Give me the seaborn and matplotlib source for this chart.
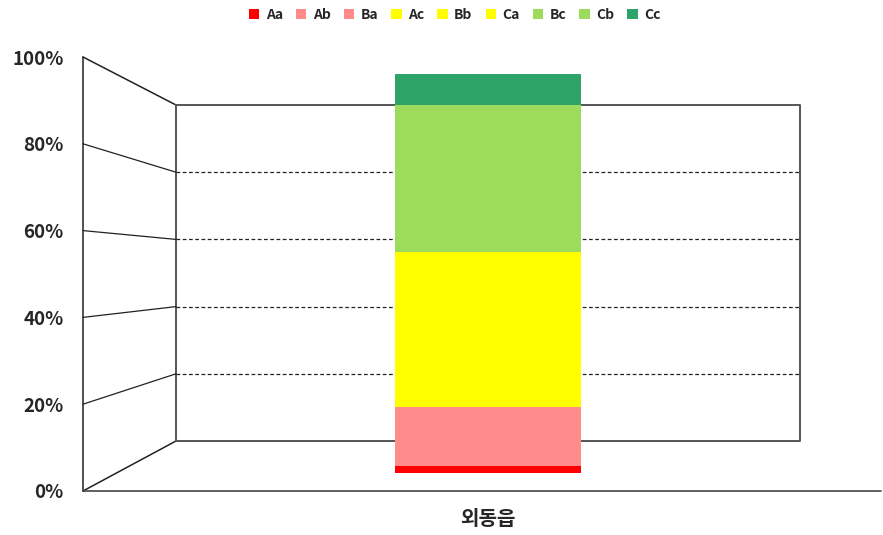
import numpy as np
import pandas as pd
import matplotlib
matplotlib.use('Agg')
import matplotlib.pyplot as plt
import seaborn as sns
from matplotlib.patches import Patch
from matplotlib.ticker import PercentFormatter

# data
region = ['외동읍']
classes = ['Aa', 'Ab', 'Ba', 'Ac', 'Bb', 'Ca', 'Bc', 'Cb', 'Cc']
shares = [0.018, 0.148, 0.0, 0.0, 0.388, 0.0, 0.368, 0.0, 0.078]
colors = ['#FF0000', '#FF8B8B', '#FF8B8B', '#FFFF00', '#FFFF00', '#FFFF00',
          '#9CDB5C', '#9CDB5C', '#2EA36A']
ticks = [0, 0.2, 0.4, 0.6, 0.8, 1.0]

sns.set_theme(style='white')
plt.rcParams['font.family'] = ['Noto Sans CJK KR', 'DejaVu Sans']

W, H = 883, 535
fig = plt.figure(figsize=(W / 100, H / 100), dpi=100)

# pixel geometry of the fake 3D box
fx, f0, f1 = 83, 491, 57      # front wall x, y of 0% and 100%
bx, b0, b1 = 176, 441, 105    # back wall left x, y of 0% and 100%
rx = 800                      # back wall right x
bar0, bar1 = 473, 74          # bar face 0% and 100%


def fr(px_x, px_y, w, h):
    return [px_x / W, (H - px_y - h) / H, w / W, h / H]


# overlay for the walls
deco = fig.add_axes([0, 0, 1, 1])
deco.set_xlim(0, W)
deco.set_ylim(H, 0)
deco.axis('off')
lc = '#222222'
deco.plot([fx, fx], [f0, f1], color=lc, lw=1.1)
deco.plot([fx, bx], [f1, b1], color=lc, lw=1.1)
deco.plot([fx, bx], [f0, b0], color=lc, lw=1.1)
deco.plot([fx, 881], [f0, f0], color='#444444', lw=1.2)
deco.plot([bx, rx, rx, bx, bx], [b1, b1, b0, b0, b1], color='#555555', lw=1.4)
for t in ticks[1:-1]:
    yf = f0 - t * (f0 - f1)
    yb = b0 - t * (b0 - b1)
    deco.plot([fx, bx], [yf, yb], color=lc, lw=0.9)
    deco.plot([bx, rx], [yb, yb], color=lc, lw=0.9, ls=(0, (3, 2)))

# tick labels on the front wall
front = fig.add_axes(fr(fx, f1, 1, f0 - f1))
front.set_ylim(0, 1)
front.set_yticks(ticks)
front.yaxis.set_major_formatter(PercentFormatter(1.0, decimals=0))
front.set_xticks([])
front.tick_params(axis='y', length=0, pad=14, labelsize=13.5)
for lab in front.get_yticklabels():
    lab.set_fontweight('bold')
front.patch.set_alpha(0)
for s in front.spines.values():
    s.set_visible(False)

# stacked bar
ax = fig.add_axes(fr(bx, bar1, rx - bx, bar0 - bar1))
ax.patch.set_alpha(0)
cum = np.cumsum(shares)
for i in range(len(classes) - 1, -1, -1):
    if shares[i] == 0:
        continue
    df = pd.DataFrame({'region': region, 'value': [cum[i]]})
    sns.barplot(data=df, x='region', y='value', color=colors[i], width=0.298,
                saturation=1, ax=ax, edgecolor='none')
ax.set_xlim(-0.5, 0.5)
ax.set_ylim(0, 1)
ax.set_yticks([])
ax.set_xlabel('')
ax.set_ylabel('')
ax.tick_params(axis='x', length=0, pad=25, labelsize=14.5)
for lab in ax.get_xticklabels():
    lab.set_fontweight('bold')
for s in ax.spines.values():
    s.set_visible(False)
ax.set_zorder(3)

handles = [Patch(facecolor=c, edgecolor='none', label=n) for n, c in zip(classes, colors)]
leg = fig.legend(handles=handles, loc='center', bbox_to_anchor=(0.515, 0.972), ncol=9,
                 frameon=False, fontsize=10, handlelength=0.75, handleheight=0.75,
                 handletextpad=0.45, columnspacing=0.95)
for t in leg.get_texts():
    t.set_fontweight('bold')

fig.savefig('out.png', dpi=100)
